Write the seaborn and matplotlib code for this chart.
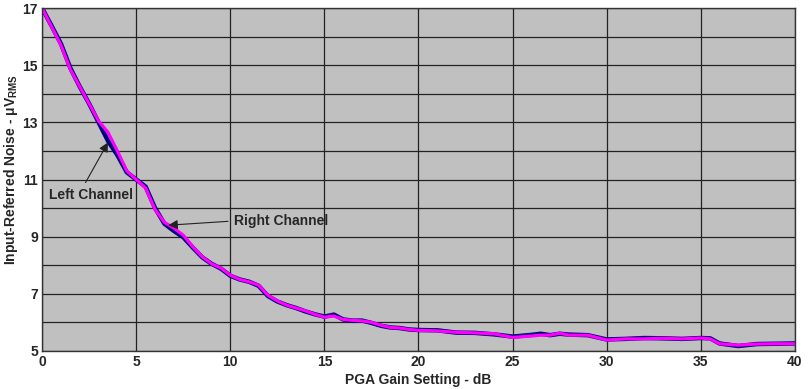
import pandas as pd
import matplotlib.pyplot as plt
import seaborn as sns

# PGA gain setting (dB) and input-referred noise (uVrms)
gain = [0, 0.5, 1, 1.5, 2, 2.5, 3, 3.5, 4, 4.5, 5, 5.5, 6, 6.5, 7, 7.5, 8, 8.5,
        9, 9.5, 10, 10.5, 11, 11.5, 12, 12.5, 13, 13.5, 14, 14.5, 15, 15.5, 16,
        16.5, 17, 17.5, 18, 18.5, 19, 19.5, 20, 21, 22, 23, 24, 25, 26, 26.5,
        27, 27.5, 28, 29, 30, 31, 32, 33, 34, 35, 35.5, 36, 37, 38, 39, 40]
left_ch = [17.0, 16.38, 15.75, 14.9, 14.25, 13.65, 13.0, 12.35, 11.85, 11.25, 11.0,
           10.75, 10.0, 9.45, 9.2, 8.98, 8.62, 8.28, 8.05, 7.88, 7.63, 7.5, 7.42,
           7.28, 6.92, 6.73, 6.6, 6.5, 6.38, 6.28, 6.2, 6.27, 6.1, 6.06, 6.06,
           5.98, 5.88, 5.82, 5.8, 5.75, 5.73, 5.72, 5.64, 5.63, 5.58, 5.5, 5.56,
           5.6, 5.55, 5.6, 5.57, 5.55, 5.4, 5.42, 5.45, 5.44, 5.42, 5.45, 5.44,
           5.26, 5.17, 5.24, 5.25, 5.26]
right_ch = [17.0, 16.35, 15.7, 14.85, 14.25, 13.65, 13.05, 12.65, 12.0, 11.3, 11.0,
            10.7, 9.95, 9.5, 9.3, 9.05, 8.65, 8.3, 8.05, 7.9, 7.65, 7.5, 7.42,
            7.3, 6.95, 6.75, 6.6, 6.5, 6.4, 6.28, 6.18, 6.22, 6.1, 6.07, 6.05,
            6.0, 5.9, 5.82, 5.8, 5.75, 5.72, 5.7, 5.65, 5.63, 5.6, 5.47, 5.52,
            5.55, 5.55, 5.62, 5.55, 5.55, 5.38, 5.42, 5.42, 5.44, 5.42, 5.45, 5.42,
            5.25, 5.2, 5.24, 5.25, 5.25]

df = pd.DataFrame({"gain": gain, "left": left_ch, "right": right_ch})

sns.set_style("white")
plt.rcParams["font.family"] = ["Liberation Sans", "DejaVu Sans"]
plt.rcParams["mathtext.default"] = "regular"

fig = plt.figure(figsize=(8.11, 3.89), dpi=100)
ax = fig.add_axes([0.052, 0.098, 0.928, 0.881])
ax.set_facecolor("#C0C0C0")

line_kw = dict(solid_joinstyle="round", solid_capstyle="round")
sns.lineplot(data=df, x="gain", y="left", color="#000080", lw=3.2, ax=ax, **line_kw)
sns.lineplot(data=df, x="gain", y="right", color="#FF00FF", lw=2.3, ax=ax, **line_kw)

ax.set_xlim(0, 40)
ax.set_ylim(5, 17)
ax.set_xticks(range(0, 41, 5))
ax.set_yticks(range(5, 18, 2))
ax.set_yticks(range(5, 18, 1), minor=True)
ax.grid(True, which="both", color="#222222", lw=0.9)
ax.set_axisbelow(True)
ax.tick_params(which="both", length=0, labelsize=10, pad=3)
for lab in ax.get_xticklabels() + ax.get_yticklabels():
    lab.set_fontweight("bold")
for s in ax.spines.values():
    s.set_color("#333333")
    s.set_linewidth(1.0)

ax.set_xlabel("PGA Gain Setting - dB", fontsize=10, fontweight="bold")
ax.set_ylabel(r"Input-Referred Noise - $\mu$V$_{RMS}$", fontsize=10, fontweight="bold")
ax.xaxis.set_label_coords(0.5, -0.066)
ax.yaxis.set_label_coords(-0.029, 0.53)

arrow = dict(arrowstyle="-|>", color="#222222", lw=0.8, mutation_scale=14, shrinkA=2, shrinkB=0)
ax.annotate("Left Channel", xy=(3.5, 12.3), xytext=(0.35, 10.45),
            fontsize=10, fontweight="bold", ha="left", va="center",
            arrowprops=dict(arrow, relpos=(0.4, 1.0)))
ax.annotate("Right Channel", xy=(6.7, 9.4), xytext=(10.2, 9.55),
            fontsize=10, fontweight="bold", ha="left", va="center",
            arrowprops=dict(arrow, relpos=(0.0, 0.5)))

plt.savefig("out.png", dpi=100)
plt.close()
